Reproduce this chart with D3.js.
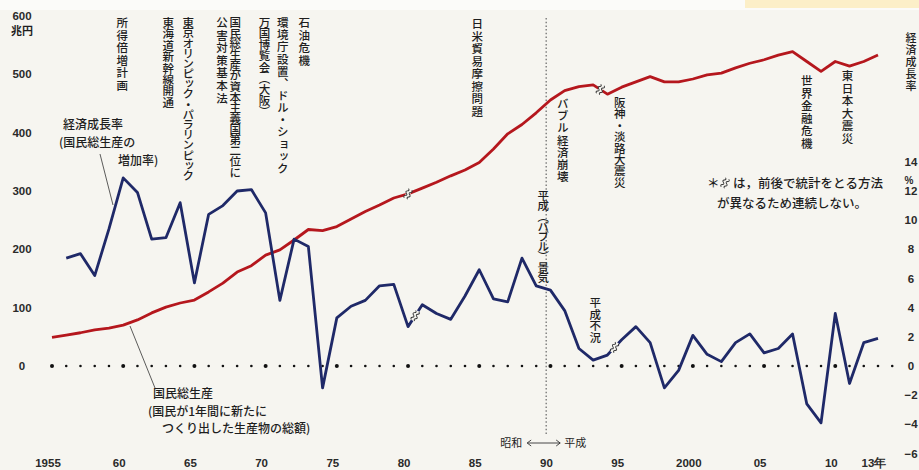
<!DOCTYPE html>
<html><head><meta charset="utf-8">
<script src="https://cdn.jsdelivr.net/npm/d3@7"></script>
<style>
body{margin:0;background:#f6f5f0;}
svg{display:block;}
text{font-family:"Noto Sans CJK JP","Noto Sans",sans-serif;fill:#1e1e1e;}
.num{font-family:"Liberation Sans Narrow","Liberation Sans",Arial,sans-serif;font-weight:bold;fill:#2a2a2a;}
</style></head><body>
<svg id="c" width="919" height="470"></svg>
<script>
// ---- data ----
const gnpYears = [1955,1956,1957,1958,1959,1960,1961,1962,1963,1964,1965,1966,1967,1968,1969,1970,1971,1972,1973,1974,1975,1976,1977,1978,1979,1980,1981,1982,1983,1984,1985,1986,1987,1988,1989,1990,1991,1992,1993,1994,1995,1996,1997,1998,1999,2000,2001,2002,2003,2004,2005,2006,2007,2008,2009,2010,2011,2012,2013];
const gnpValues = [49,53,57,62,65,70,79,91,101,108,113,127,142,161,172,190,199,216,234,232,239,252,265,276,288,295,305,315,326,336,349,372,398,414,434,456,472,479,482,466,478,487,496,487,487,492,499,502,511,519,525,533,539,522,505,522,514,522,533];
const growthYears = [1956,1957,1958,1959,1960,1961,1962,1963,1964,1965,1966,1967,1968,1969,1970,1971,1972,1973,1974,1975,1976,1977,1978,1979,1980,1981,1982,1983,1984,1985,1986,1987,1988,1989,1990,1991,1992,1993,1994,1995,1996,1997,1998,1999,2000,2001,2002,2003,2004,2005,2006,2007,2008,2009,2010,2011,2012,2013];
const growthValues = [7.4,7.7,6.2,9.4,12.9,11.9,8.7,8.8,11.2,5.7,10.4,11.0,12.0,12.1,10.5,4.5,8.7,8.2,-1.5,3.3,4.1,4.5,5.5,5.6,2.7,4.2,3.6,3.2,4.8,6.6,4.6,4.4,7.4,5.5,5.2,3.8,1.2,0.4,0.75,1.8,2.7,1.6,-1.5,-0.3,2.1,0.8,0.3,1.6,2.2,0.9,1.2,2.2,-2.6,-3.9,3.6,-1.2,1.6,1.9];
const gnpBreaks = [1980, 1993.5];
const growthBreaks = [1980.5, 1994.5];
const eraBoundary = 1989.7;
const leftTicks = [0,100,200,300,400,500,600];
const rightTicks = [14,12,10,8,6,4,2,0,-2,-4,-6];
const xTickYears = [1955,1960,1965,1970,1975,1980,1985,1990,1995,2000,2005,2010,2013];
const xTickLabels = ["1955","60","65","70","75","80","85","90","95","2000","05","10","13年"];
const zeroDotYears = d3.range(1955, 2015);
const events = [
  {t:"所得倍増計画", yr:1960},
  {t:"東海道新幹線開通", yr:1964},
  {t:"東京オリンピック・パラリンピック", yr:1964},
  {t:"公害対策基本法", yr:1967},
  {t:"国民総生産が資本主義国第二位に", yr:1968},
  {t:"万国博覧会（大阪）", yr:1970},
  {t:"環境庁設置、ドル・ショック", yr:1971},
  {t:"石油危機", yr:1973},
  {t:"日米貿易摩擦問題", yr:1985},
  {t:"平成（バブル）景気", yr:1989.7},
  {t:"バブル経済崩壊", yr:1991},
  {t:"平成不況", yr:1993},
  {t:"阪神・淡路大震災", yr:1995},
  {t:"世界金融危機", yr:2008},
  {t:"東日本大震災", yr:2011}
];
// layout for event labels (offset px, top px, column length px)
const eventLayout = [
  {dx:-1, top:17, len:75},{dx:-12, top:17, len:91},{dx:8, top:17, len:163},{dx:-1, top:17, len:88},
  {dx:-2, top:17, len:160},{dx:-1, top:17, len:100},{dx:3, top:17, len:158},{dx:-4, top:17, len:50},
  {dx:-2, top:18, len:100},{dx:-3, top:190, len:92},{dx:-2, top:98, len:85},{dx:2, top:297, len:46},
  {dx:-2, top:97, len:91},{dx:0, top:75, len:75},{dx:-2, top:70, len:75}
];

// ---- scales ----
const svg = d3.select("#c");
const x = d3.scaleLinear().domain([1955, 2013]).range([52, 878]);
const yL = d3.scaleLinear().domain([0, 600]).range([366, 16]);
const yR = d3.scaleLinear().domain([-6, 14]).range([366 + 6*14.583, 366 - 14*14.583]);
const BG = "#f6f5f0";

// background bits
svg.append("rect").attr("x",0).attr("y",0).attr("width",919).attr("height",10).attr("fill","#fbfbf9");
svg.append("rect").attr("x",745).attr("y",0).attr("width",174).attr("height",8).attr("fill","#fcefc8");

// left axis labels
svg.append("g").selectAll("text").data(leftTicks).join("text")
  .attr("class","num").attr("x",22).attr("y",d=>yL(d)).attr("dy","0.35em")
  .attr("text-anchor","middle").attr("font-size",11.5).text(d=>d);
svg.append("text").attr("x",22).attr("y",yL(600)+15).attr("dy","0.35em").attr("text-anchor","middle")
  .attr("font-size",11).attr("font-weight",700).text("兆円");

// right axis labels
svg.append("g").selectAll("text").data(rightTicks).join("text")
  .attr("class","num").attr("x",911).attr("y",d=>yR(d)).attr("dy","0.35em")
  .attr("text-anchor","middle").attr("font-size",11.5).text(d=>d<0?"−"+(-d):d);
svg.append("text").attr("class","num").attr("x",909).attr("y",yR(12.75)).attr("dy","0.35em")
  .attr("text-anchor","middle").attr("font-size",10).text("%");
svg.append("text").attr("x",911).attr("y",32).style("writing-mode","vertical-rl")
  .attr("font-size",11).attr("font-weight",500).attr("letter-spacing",1).text("経済成長率");

// bottom labels
svg.append("g").selectAll("text").data(xTickYears).join("text")
  .attr("class","num").attr("x",d=>x(d)-4).attr("y",467)
  .attr("text-anchor","middle").attr("font-size",11.5).text((d,i)=>xTickLabels[i]);

// zero dotted line
svg.append("g").selectAll("circle").data(zeroDotYears).join("circle")
  .attr("cx",d=>x(d)).attr("cy",yL(0)).attr("r",d=>d%5===0?2:1.3).attr("fill","#111");

// era line
const ex = x(eraBoundary);
svg.append("line").attr("x1",ex).attr("x2",ex).attr("y1",18).attr("y2",436)
  .attr("stroke","#666").attr("stroke-width",1.2).attr("stroke-dasharray","1.5,2.2");
svg.append("text").attr("x",ex-24).attr("y",447).attr("text-anchor","end").attr("font-size",11).text("昭和");
svg.append("text").attr("x",ex+18).attr("y",447).attr("text-anchor","start").attr("font-size",11).text("平成");
svg.append("path").attr("d",`M${ex-19},443 L${ex+14},443 M${ex-15},440 L${ex-19},443 L${ex-15},446 M${ex+10},440 L${ex+14},443 L${ex+10},446`)
  .attr("stroke","#333").attr("stroke-width",0.9).attr("fill","none");

// event labels
const eg = svg.append("g");
events.forEach((e,i)=>{
  const L = eventLayout[i];
  const n = [...e.t].length;
  const fs = 11.5;
  eg.append("text").attr("x", x(e.yr)+L.dx).attr("y", L.top)
    .style("writing-mode","vertical-rl").attr("font-size",fs).attr("font-weight",500)
    .attr("letter-spacing", (L.len/n - fs).toFixed(2)).text(e.t);
});

// lines
const gnpData = gnpYears.map((yr,i)=>({yr, v:gnpValues[i]}));
const grData = growthYears.map((yr,i)=>({yr, v:growthValues[i]}));
svg.append("path").datum(gnpData).attr("fill","none").attr("stroke","#b5171d").attr("stroke-width",2.8)
  .attr("stroke-linejoin","round").attr("d", d3.line().x(d=>x(d.yr)).y(d=>yL(d.v)));
svg.append("path").datum(grData).attr("fill","none").attr("stroke","#1f2968").attr("stroke-width",2.8)
  .attr("stroke-linejoin","round").attr("d", d3.line().x(d=>x(d.yr)).y(d=>yR(d.v)));

// break marks
function interp(data, yr){
  for(let i=0;i<data.length-1;i++){
    if(yr>=data[i].yr && yr<=data[i+1].yr){
      const t=(yr-data[i].yr)/(data[i+1].yr-data[i].yr);
      return data[i].v + t*(data[i+1].v-data[i].v);
    }
  }
  return data[data.length-1].v;
}
const wave = "M-5,-1.8 q1.25,-2.2 2.5,0 t2.5,0 t2.5,0 t2.5,0 M-5,1.8 q1.25,-2.2 2.5,0 t2.5,0 t2.5,0 t2.5,0";
function breakMark(px, py, withGap){
  const g = svg.append("g").attr("transform",`translate(${px},${py}) rotate(-65)`);
  if(withGap) g.append("rect").attr("x",-5.5).attr("y",-2.2).attr("width",11).attr("height",4.4).attr("fill",BG);
  g.append("path").attr("d",wave).attr("fill","none").attr("stroke","#333").attr("stroke-width",0.9);
}
gnpBreaks.forEach(b=>breakMark(x(b), yL(interp(gnpData,b)), true));
growthBreaks.forEach(b=>breakMark(x(b), yR(interp(grData,b)), true));

// legend labels
const lg = svg.append("g").attr("font-size",12).attr("font-weight",500);
lg.append("text").attr("x",63).attr("y",129).text("経済成長率");
lg.append("text").attr("x",59).attr("y",147).text("(国民総生産の");
lg.append("text").attr("x",118).attr("y",165).text("増加率)");
svg.append("line").attr("x1",100).attr("y1",154).attr("x2",113).attr("y2",205).attr("stroke","#333").attr("stroke-width",0.8);
const lg2 = svg.append("g").attr("font-size",12).attr("font-weight",500).attr("fill","#2b1f1f");
lg2.append("text").attr("x",153).attr("y",398).text("国民総生産");
lg2.append("text").attr("x",148).attr("y",415.5).text("(国民が1年間に新たに");
lg2.append("text").attr("x",162).attr("y",433).text("つくり出した生産物の総額)");
svg.append("line").attr("x1",130).attr("y1",326).attr("x2",155).attr("y2",388).attr("stroke","#333").attr("stroke-width",0.8);

// note
svg.append("text").attr("x",707).attr("y",188).attr("font-size",12.5).attr("font-weight",500).text("＊");
breakMark(725, 183, false);
svg.append("text").attr("x",733).attr("y",188).attr("font-size",12.5).attr("font-weight",500).text("は，前後で統計をとる方法");
svg.append("text").attr("x",717).attr("y",208).attr("font-size",12.5).attr("font-weight",500).text("が異なるため連続しない。");
</script>
</body></html>
